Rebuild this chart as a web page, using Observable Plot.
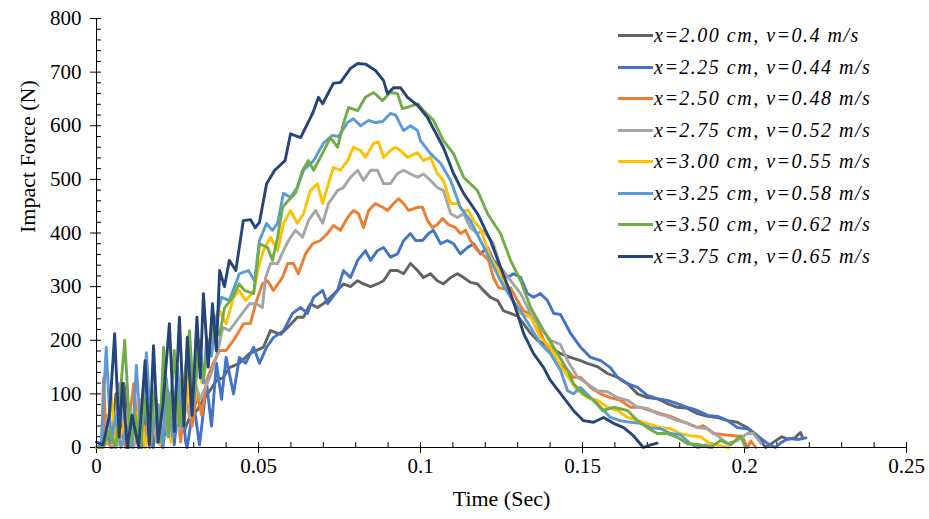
<!DOCTYPE html>
<html><head><meta charset="utf-8">
<script src="https://cdn.jsdelivr.net/npm/d3@7"></script>
<script src="https://cdn.jsdelivr.net/npm/@observablehq/plot@0.6"></script>
<style>
html,body{margin:0;padding:0;background:#fff;}
#wrap{position:relative;width:929px;height:519px;font-family:"Liberation Serif","Times New Roman",serif;}
#legend{position:absolute;left:618px;top:20px;}
.row{display:flex;align-items:center;height:31.5px;font-style:italic;font-size:20px;letter-spacing:1.5px;color:#000;white-space:nowrap;}
.sw{width:35px;height:3px;margin-right:1px;}
</style></head>
<body><div id="wrap"><div id="chart"></div><div id="legend"></div></div>
<script>
const seriesNames = ["x=2.00 cm, v=0.4 m/s","x=2.25 cm, v=0.44 m/s","x=2.50 cm, v=0.48 m/s","x=2.75 cm, v=0.52 m/s","x=3.00 cm, v=0.55 m/s","x=3.25 cm, v=0.58 m/s","x=3.50 cm, v=0.62 m/s","x=3.75 cm, v=0.65 m/s"];
const colors = ["#636363","#4472C4","#ED7D31","#A5A5A5","#FFC000","#5B9BD5","#70AD47","#264478"];
const xTicks = [0, 0.05, 0.1, 0.15, 0.2, 0.25];
const yTicks = [0, 100, 200, 300, 400, 500, 600, 700, 800];

// [time (s), force (N)]
const s200 = [[0,0],[0.002,0],[0.003,60],[0.0045,0],[0.006,100],[0.0075,20],[0.0085,119],[0.010,30],[0.0105,63],[0.012,10],[0.014,80],[0.0155,20],[0.0175,60],[0.019,10],[0.021,50],[0.023,20],[0.025,70],[0.027,30],[0.029,60],[0.031,69],[0.033,90],[0.035,106],[0.037,125],[0.039,130],[0.041,149],[0.0441,157],[0.0472,175],[0.0494,181],[0.0515,187],[0.0537,218],[0.0568,211],[0.059,224],[0.062,243],[0.0639,243],[0.066,268],[0.0682,261],[0.07,268],[0.0722,280],[0.0744,293],[0.0762,305],[0.0784,300],[0.0806,311],[0.0824,305],[0.0846,300],[0.0867,305],[0.0886,311],[0.0907,330],[0.0929,330],[0.0948,324],[0.0969,343],[0.0991,330],[0.1009,317],[0.1031,324],[0.1052,311],[0.1071,305],[0.1093,317],[0.1114,324],[0.1133,317],[0.1154,308],[0.1176,305],[0.1194,293],[0.1216,280],[0.1238,274],[0.1256,255],[0.1278,250],[0.1299,245],[0.1318,231],[0.134,213],[0.1361,200],[0.138,194],[0.1401,187],[0.1432,175],[0.1463,168],[0.1494,162],[0.1515,157],[0.1546,151],[0.1577,138],[0.1608,131],[0.1639,119],[0.167,100],[0.17,93],[0.1731,91],[0.1762,82],[0.1793,75],[0.1824,73],[0.1855,63],[0.1886,58],[0.1917,56],[0.1948,50],[0.1978,47],[0.2009,37],[0.204,22],[0.2065,0],[0.209,10],[0.2115,20],[0.2135,15],[0.2155,18],[0.2173,28],[0.2178,20]];
const s225 = [[0,0],[0.002,0],[0.004,20],[0.006,0],[0.008,30],[0.010,0],[0.0125,50],[0.014,0],[0.016,90],[0.0175,0],[0.019,70],[0.0205,0],[0.0225,100],[0.024,5],[0.026,120],[0.0275,10],[0.028,0],[0.030,82],[0.0318,5],[0.034,119],[0.0355,40],[0.037,157],[0.0386,90],[0.040,168],[0.0423,100],[0.0441,168],[0.046,157],[0.0485,187],[0.0503,157],[0.0525,187],[0.0546,205],[0.0577,218],[0.0605,250],[0.063,261],[0.0651,250],[0.067,280],[0.0698,293],[0.0713,268],[0.0744,293],[0.0762,330],[0.0784,317],[0.0806,349],[0.083,367],[0.0846,349],[0.0867,367],[0.0886,373],[0.0907,355],[0.0929,361],[0.0948,386],[0.0969,399],[0.0985,386],[0.1006,386],[0.1025,399],[0.104,405],[0.1062,380],[0.1083,386],[0.1102,380],[0.1123,361],[0.1145,373],[0.1164,380],[0.1185,361],[0.1207,373],[0.1225,349],[0.1247,336],[0.1269,317],[0.1287,324],[0.1309,317],[0.133,287],[0.1349,280],[0.137,287],[0.1392,274],[0.1411,250],[0.1432,248],[0.1463,213],[0.1494,187],[0.1525,168],[0.1556,162],[0.1586,149],[0.1608,131],[0.1639,119],[0.167,112],[0.17,97],[0.1731,91],[0.1762,88],[0.1793,82],[0.1824,75],[0.1855,69],[0.1886,60],[0.1917,58],[0.1948,50],[0.1978,37],[0.2009,35],[0.204,22],[0.207,8],[0.2095,0],[0.2115,10],[0.2135,17],[0.2165,15],[0.219,18]];
const s250 = [[0,0],[0.0015,0],[0.0022,130],[0.003,10],[0.005,0],[0.007,40],[0.009,0],[0.0115,119],[0.013,10],[0.015,40],[0.0165,0],[0.019,80],[0.020,5],[0.022,106],[0.0235,20],[0.0245,80],[0.026,10],[0.0282,144],[0.0295,40],[0.031,100],[0.0325,60],[0.034,125],[0.036,157],[0.038,181],[0.040,181],[0.0423,200],[0.0454,231],[0.0475,231],[0.0491,268],[0.0512,305],[0.0528,311],[0.0546,293],[0.0574,317],[0.059,343],[0.0608,343],[0.0623,324],[0.0645,361],[0.0667,380],[0.0691,386],[0.0713,399],[0.0731,414],[0.0753,405],[0.0775,429],[0.0793,442],[0.0809,436],[0.0824,410],[0.084,442],[0.0861,455],[0.0883,448],[0.0898,442],[0.0917,455],[0.0932,464],[0.0948,455],[0.0963,442],[0.0991,448],[0.1006,448],[0.1022,423],[0.1037,410],[0.1052,416],[0.1068,427],[0.1086,416],[0.1108,410],[0.1123,399],[0.1139,405],[0.1154,386],[0.1176,367],[0.1191,361],[0.121,349],[0.1225,317],[0.1241,298],[0.1256,296],[0.1278,298],[0.1299,274],[0.1318,255],[0.134,249],[0.1361,231],[0.138,200],[0.1411,168],[0.1441,149],[0.1454,144],[0.1472,131],[0.1494,131],[0.1525,112],[0.1556,100],[0.1586,93],[0.1617,88],[0.1648,75],[0.1679,75],[0.171,69],[0.1741,63],[0.1772,58],[0.1802,50],[0.1824,45],[0.1855,37],[0.1873,41],[0.1904,26],[0.1935,24],[0.1966,22],[0.1994,20],[0.2009,0],[0.202,12],[0.2035,0]];
const s275 = [[0,0],[0.002,0],[0.0035,60],[0.005,0],[0.007,119],[0.0085,20],[0.010,80],[0.0115,0],[0.0135,60],[0.015,0],[0.017,90],[0.0185,10],[0.0205,70],[0.022,20],[0.024,100],[0.0255,30],[0.0272,110],[0.0287,56],[0.0305,119],[0.032,90],[0.035,131],[0.037,168],[0.039,224],[0.041,218],[0.0441,243],[0.0472,268],[0.0494,268],[0.0512,261],[0.0522,317],[0.0537,343],[0.0559,343],[0.0577,367],[0.0593,386],[0.0614,405],[0.0636,392],[0.0654,423],[0.0676,442],[0.0698,418],[0.0716,455],[0.0744,479],[0.0762,485],[0.0784,504],[0.0806,517],[0.0824,498],[0.0846,517],[0.0867,517],[0.0886,492],[0.0907,492],[0.0929,511],[0.0948,517],[0.0969,510],[0.0991,504],[0.1009,510],[0.1031,498],[0.1052,485],[0.1071,479],[0.1093,436],[0.1114,429],[0.1133,436],[0.1154,410],[0.1176,399],[0.1194,405],[0.1225,380],[0.1247,336],[0.1278,311],[0.1309,287],[0.134,250],[0.137,224],[0.1401,200],[0.1432,192],[0.1454,162],[0.1485,131],[0.1515,119],[0.1546,106],[0.1577,104],[0.1608,93],[0.1639,88],[0.167,75],[0.17,73],[0.1731,63],[0.1762,58],[0.1793,50],[0.1824,45],[0.1855,37],[0.1886,35],[0.1917,22],[0.1948,7],[0.1978,13],[0.2009,26],[0.2028,26],[0.205,8]];
const s300 = [[0,0],[0.003,10],[0.0045,100],[0.006,0],[0.009,50],[0.011,0],[0.0135,90],[0.015,0],[0.018,70],[0.0195,5],[0.0215,110],[0.023,10],[0.0255,130],[0.027,40],[0.029,160],[0.0305,90],[0.031,194],[0.0325,120],[0.034,170],[0.0355,200],[0.037,230],[0.038,255],[0.040,231],[0.0423,280],[0.0441,293],[0.046,274],[0.0485,290],[0.05,336],[0.0515,367],[0.0537,392],[0.0559,367],[0.0577,418],[0.0599,442],[0.062,418],[0.0639,436],[0.066,479],[0.0682,492],[0.0698,455],[0.0716,492],[0.0731,522],[0.0753,517],[0.0775,535],[0.0793,560],[0.0815,554],[0.083,541],[0.0855,567],[0.087,570],[0.0886,541],[0.0907,554],[0.0923,560],[0.0938,554],[0.096,541],[0.0991,550],[0.1009,535],[0.1031,541],[0.1052,511],[0.1071,498],[0.1093,455],[0.1114,455],[0.113,442],[0.1148,442],[0.1164,423],[0.1185,408],[0.1216,355],[0.1247,324],[0.1278,280],[0.1309,250],[0.134,243],[0.137,205],[0.1401,187],[0.1432,152],[0.1463,125],[0.1485,106],[0.1515,93],[0.1546,88],[0.1577,75],[0.1608,69],[0.1639,56],[0.167,50],[0.17,45],[0.1741,37],[0.1772,35],[0.1802,26],[0.1833,22],[0.1864,20],[0.1895,7],[0.1926,3],[0.195,0]];
const s325 = [[0,0],[0.0015,5],[0.003,187],[0.0045,10],[0.006,60],[0.0075,0],[0.0095,40],[0.011,0],[0.0123,153],[0.0138,10],[0.0154,177],[0.017,20],[0.019,80],[0.0205,5],[0.0215,130],[0.0235,20],[0.025,150],[0.0265,40],[0.0285,205],[0.030,80],[0.0315,190],[0.033,120],[0.034,205],[0.0355,170],[0.037,243],[0.0386,280],[0.041,274],[0.0441,324],[0.0469,330],[0.0488,311],[0.0503,386],[0.0525,418],[0.0543,405],[0.0559,418],[0.0577,474],[0.0599,466],[0.062,485],[0.0639,517],[0.067,535],[0.07,567],[0.0728,582],[0.0747,580],[0.0775,606],[0.0793,613],[0.0815,600],[0.084,610],[0.0861,606],[0.0883,608],[0.0907,623],[0.0923,620],[0.0948,591],[0.0969,600],[0.0991,591],[0.1,572],[0.1031,548],[0.1062,530],[0.1093,498],[0.1123,448],[0.1154,423],[0.1185,386],[0.1216,349],[0.1247,311],[0.1278,280],[0.1309,255],[0.134,224],[0.137,194],[0.1401,175],[0.1432,144],[0.1454,106],[0.1472,100],[0.1494,112],[0.1525,93],[0.1556,75],[0.1586,56],[0.1617,50],[0.1648,47],[0.1679,45],[0.171,37],[0.1741,35],[0.1772,26],[0.1802,24],[0.1833,7],[0.1855,0],[0.188,5],[0.19,0]];
const s350 = [[0,0],[0.002,0],[0.004,30],[0.006,0],[0.0087,200],[0.0105,10],[0.012,60],[0.0135,0],[0.015,90],[0.0165,0],[0.018,110],[0.0195,10],[0.0207,187],[0.0222,20],[0.024,181],[0.0255,40],[0.027,120],[0.0287,218],[0.030,90],[0.0318,200],[0.033,130],[0.0345,180],[0.036,231],[0.038,210],[0.0395,260],[0.042,280],[0.044,305],[0.0457,293],[0.0485,287],[0.0503,380],[0.0528,373],[0.0543,349],[0.0559,392],[0.0574,448],[0.0593,461],[0.0614,474],[0.0636,517],[0.0654,535],[0.067,517],[0.0691,541],[0.0722,578],[0.0744,560],[0.0762,604],[0.0778,634],[0.0806,628],[0.083,653],[0.0855,662],[0.0883,647],[0.0907,662],[0.0929,660],[0.0944,632],[0.0963,635],[0.0991,641],[0.101,628],[0.104,610],[0.1071,572],[0.1102,548],[0.1133,504],[0.1176,479],[0.1207,436],[0.1247,399],[0.1278,349],[0.1309,311],[0.134,261],[0.138,218],[0.1423,175],[0.1454,144],[0.1472,119],[0.1503,100],[0.1534,88],[0.1562,69],[0.1596,75],[0.1639,69],[0.167,50],[0.17,37],[0.1731,26],[0.1762,26],[0.1793,19],[0.1824,7],[0.1864,5],[0.1895,0],[0.1926,13],[0.1957,5],[0.1988,22],[0.2003,0]];
const s375 = [[0,10],[0.002,5],[0.004,60],[0.0056,212],[0.007,20],[0.008,120],[0.0095,0],[0.011,60],[0.013,0],[0.015,162],[0.0163,5],[0.0176,190],[0.019,10],[0.0205,80],[0.0225,231],[0.024,30],[0.0256,243],[0.027,40],[0.028,205],[0.0295,60],[0.031,243],[0.032,130],[0.033,287],[0.0345,150],[0.0358,268],[0.037,180],[0.038,330],[0.0395,300],[0.041,349],[0.043,330],[0.0453,423],[0.0475,425],[0.049,410],[0.0503,420],[0.0525,492],[0.055,517],[0.0582,535],[0.0599,585],[0.063,578],[0.0667,623],[0.0685,653],[0.0698,641],[0.0731,679],[0.0753,681],[0.0784,707],[0.0806,716],[0.083,715],[0.0861,703],[0.0886,684],[0.0898,660],[0.0917,671],[0.0938,671],[0.096,653],[0.0991,638],[0.1022,615],[0.1071,559],[0.1102,511],[0.1133,474],[0.1176,436],[0.1216,386],[0.1247,336],[0.1278,287],[0.1299,250],[0.1318,213],[0.1349,175],[0.138,149],[0.1401,125],[0.1432,101],[0.1472,69],[0.1503,50],[0.1534,47],[0.1565,56],[0.1596,45],[0.1627,37],[0.1657,22],[0.1688,0],[0.171,5],[0.173,8]];

const seriesData = [s200, s225, s250, s275, s300, s325, s350, s375];
const rows = seriesData.flatMap((s, i) => s.map(([t, F]) => ({t, F, name: seriesNames[i]})));

const chart = Plot.plot({
  width: 929, height: 519,
  marginLeft: 96, marginRight: 23, marginTop: 18, marginBottom: 72,
  style: {fontFamily: "'Liberation Serif','Times New Roman',serif", fontSize: "21px", color: "#000", background: "#fff"},
  x: {domain: [0, 0.25], label: null},
  y: {domain: [0, 800], label: null},
  color: {domain: seriesNames, range: colors},
  marks: [
    Plot.tickY(d3.range(0, 801, 20), {y: d => d, insetRight: 805, stroke: "#000"}),
    Plot.tickX(d3.range(0, 0.2501, 0.01), {x: d => d, insetTop: 424, stroke: "#000"}),
    Plot.axisY({ticks: yTicks, tickSize: 6, tickPadding: 9, tickFormat: d => String(d), label: null, fontSize: 21}),
    Plot.axisX({ticks: xTicks, tickSize: 6, tickPadding: 5, tickFormat: d => String(d), label: null, fontSize: 21}),
    Plot.line(rows, {x: "t", y: "F", z: "name", stroke: "name", strokeWidth: 2.9, strokeLinejoin: "round", strokeLinecap: "round"}),
    Plot.ruleX([0], {stroke: "#000"}),
    Plot.ruleY([0], {stroke: "#000"}),
    Plot.text(["Time (Sec)"], {frameAnchor: "bottom", dy: 58, fontSize: 22, text: d => d}),
    Plot.text(["Impact Force (N)"], {frameAnchor: "left", dx: -69, rotate: -90, fontSize: 22, text: d => d})
  ]
});
document.getElementById("chart").appendChild(chart);

const legend = document.getElementById("legend");
seriesNames.forEach((n, i) => {
  const row = document.createElement("div");
  row.className = "row";
  const sw = document.createElement("div");
  sw.className = "sw";
  sw.style.background = colors[i];
  const tx = document.createElement("span");
  tx.textContent = n;
  row.appendChild(sw); row.appendChild(tx);
  legend.appendChild(row);
});
</script></body></html>
